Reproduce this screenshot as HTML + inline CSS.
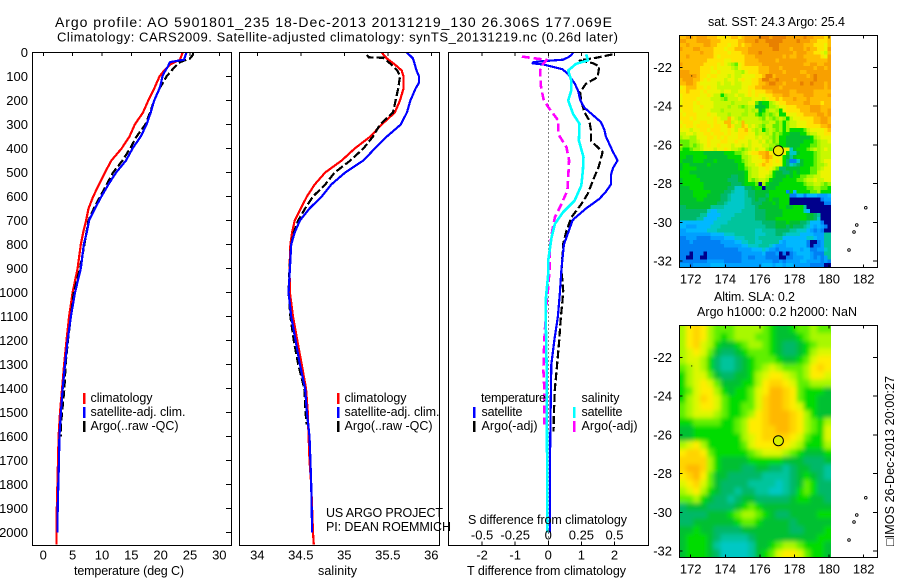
<!DOCTYPE html>
<html lang="en">
<head>
<meta charset="utf-8">
<title>Argo profile</title>
<style>
html,body{margin:0;padding:0;background:#fff;}
svg{display:block;}
text{font-family:"Liberation Sans",Arial,sans-serif;font-size:12.5px;fill:#000;dominant-baseline:central;}
text.t1{font-size:14px;}
text.t2{font-size:13px;}
text.tk{font-size:13px;}
</style>
</head>
<body>
<svg id="fig" xmlns="http://www.w3.org/2000/svg" width="900" height="580" viewBox="0 0 900 580">
  <defs>
    <clipPath id="clip-sst"><rect x="679.5" y="35.5" width="198" height="232"/></clipPath>
    <clipPath id="clip-sla"><rect x="679.5" y="325.5" width="198" height="232"/></clipPath>
    <filter id="smooth" filterUnits="userSpaceOnUse" x="650" y="300" width="250" height="280"><feGaussianBlur stdDeviation="2.2"/></filter>
  </defs>

  <text class="t1" x="55" y="22" textLength="557">Argo profile: AO 5901801_235 18-Dec-2013 20131219_130 26.306S 177.069E</text>
  <text class="t2" x="57" y="37" textLength="561">Climatology: CARS2009. Satellite-adjusted climatology: synTS_20131219.nc (0.26d later)</text>

  <g id="p1"></g>
  <g id="p2"></g>
  <g id="p3"></g>
  <g id="m1"></g>
  <g id="m2"></g>

  <text x="74" y="571" textLength="110">temperature (deg C)</text>
  <text x="318" y="571" textLength="39">salinity</text>
  <text x="467" y="571" textLength="159">T difference from climatology</text>
  <text x="468" y="520" textLength="159">S difference from climatology</text>

  <g>
    <rect x="83" y="393" width="2.5" height="11" fill="#ff0000"/>
    <rect x="83" y="407" width="2.5" height="11" fill="#0000ff"/>
    <rect x="83" y="421" width="2.5" height="11" fill="#000"/>
    <text x="90.5" y="398" textLength="62">climatology</text>
    <text x="90.5" y="412" textLength="95">satellite-adj. clim.</text>
    <text x="90.5" y="426" textLength="88">Argo(..raw -QC)</text>
  </g>
  <g>
    <rect x="337" y="393" width="2.5" height="11" fill="#ff0000"/>
    <rect x="337" y="407" width="2.5" height="11" fill="#0000ff"/>
    <rect x="337" y="421" width="2.5" height="11" fill="#000"/>
    <text x="344.5" y="398" textLength="62">climatology</text>
    <text x="344.5" y="412" textLength="95">satellite-adj. clim.</text>
    <text x="344.5" y="426" textLength="88">Argo(..raw -QC)</text>
  </g>
  <g>
    <text x="481" y="398" textLength="65">temperature</text>
    <text x="581.5" y="398" textLength="38">salinity</text>
    <rect x="473" y="407" width="2.5" height="11" fill="#0000ff"/>
    <rect x="473" y="421" width="2.5" height="11" fill="#000"/>
    <rect x="573" y="407" width="2.5" height="11" fill="#00ffff"/>
    <rect x="573" y="421" width="2.5" height="11" fill="#ff00ff"/>
    <text x="481.5" y="412" textLength="41">satellite</text>
    <text x="481.5" y="426" textLength="56">Argo(-adj)</text>
    <text x="581.5" y="412" textLength="41">satellite</text>
    <text x="581.5" y="426" textLength="56">Argo(-adj)</text>
  </g>
  <text x="326" y="513" textLength="117">US ARGO PROJECT</text>
  <text x="326" y="527" textLength="125">PI: DEAN ROEMMICH</text>

  <text x="708" y="22" textLength="137">sat. SST: 24.3 Argo: 25.4</text>
  <text x="714" y="297" textLength="81">Altim. SLA: 0.2</text>
  <text x="697" y="312" textLength="160">Argo h1000: 0.2 h2000: NaN</text>
  <text transform="translate(890 546) rotate(-90)" x="0" y="0" textLength="170">□IMOS 26-Dec-2013 20:00:27</text>
</svg>

<script>
// ---- shared depth axis ----
const depthTicks = [0,100,200,300,400,500,600,700,800,900,1000,1100,1200,1300,1400,1500,1600,1700,1800,1900,2000];

// ---- temperature panel ----
const tempTicks = [0,5,10,15,20,25,30];
const tempClimDepth = [0,30,50,75,100,150,200,250,300,350,400,450,500,550,600,650,700,750,800,900,1000,1100,1200,1300,1400,1500,1600,1700,1800,1900,2050];
const tempClim = [23.75,23.3,21.6,20.6,19.8,18.9,17.9,17.0,15.6,14.7,13.35,11.6,10.5,9.5,8.5,7.7,7.3,6.8,6.4,5.85,5.0,4.4,3.95,3.55,3.2,2.85,2.6,2.5,2.4,2.3,2.25];
const tempSatDepth = [0,30,40,60,80,100,130,150,200,250,300,350,400,450,500,550,600,650,700,750,800,900,1000,1100,1200,1300,1400,1500,1600,1700,1800,1900,2000];
const tempSat = [24.4,24,21.6,21.2,20.7,20.3,20.05,19.8,18.9,18.3,17.6,16.6,15.2,14.1,12.4,11.1,9.9,8.8,7.8,7.4,6.9,6.4,5.4,4.7,4.15,3.7,3.3,3.0,2.75,2.67,2.55,2.45,2.4];
const tempArgoDepth = [0,10,25,40,60,100,130,150,200,250,300,350,400,450,500,550,600,650,700,800,900,1000,1100,1200,1300,1400,1500,1550,1600];
const tempArgo = [25.5,25.5,25,23.3,22.4,21,20.3,19.8,18.9,18.2,17.4,15.9,14.8,13.5,11.9,10.8,9.7,8.6,7.7,7,6.25,5.2,4.7,4.2,3.8,3.6,3.2,3.0,3.0];

// ---- salinity panel ----
const salTicks = [34,34.5,35,35.5,36];
const salClimDepth = [0,25,50,75,100,150,200,250,300,350,400,450,500,550,600,650,700,750,800,900,1000,1100,1200,1300,1400,1500,1600,1700,1800,1900,2000,2050];
const salClim = [35.43,35.49,35.58,35.66,35.68,35.68,35.64,35.58,35.43,35.3,35.12,34.97,34.78,34.66,34.57,34.5,34.43,34.4,34.38,34.37,34.375,34.41,34.46,34.51,34.56,34.58,34.59,34.6,34.62,34.63,34.64,34.65];
const salSatDepth = [0,25,50,75,100,125,150,200,250,300,350,400,450,500,550,600,650,700,750,800,900,1000,1100,1200,1300,1400,1500,1600,1700,1800,1900,2000];
const salSat = [35.72,35.79,35.81,35.83,35.86,35.86,35.82,35.76,35.72,35.65,35.49,35.35,35.22,35.01,34.85,34.74,34.6,34.49,34.43,34.39,34.375,34.36,34.39,34.44,34.49,34.55,34.57,34.6,34.61,34.62,34.625,34.63];
const salArgoDepth = [10,20,22,50,75,100,150,200,250,300,350,400,450,500,550,600,650,700,750,800,900,1000,1100,1200,1300,1400,1500,1550];
const salArgo = [35.26,35.28,35.45,35.54,35.61,35.64,35.62,35.59,35.56,35.41,35.33,35.22,35.07,34.89,34.78,34.64,34.55,34.47,34.42,34.39,34.37,34.36,34.38,34.42,34.47,34.54,34.555,34.565];

// ---- difference panel ----
const dTTicks = [-2,-1,0,1,2];
const dSTicks = [-0.5,-0.25,0,0.25,0.5];
const dSTickLabels = ['-0.5','-0.25','0','0.25','0.5'];
const dTSatDepth = [0,10,20,30,35,40,45,50,60,70,90,100,130,160,200,230,260,290,320,350,380,410,450,480,510,550,580,610,650,690,700,750,800,900,1000,1100,1200,1300,1500,1700,2000];
const dTSat = [0.75,0.7,0.6,0.45,-0.05,-0.45,-0.48,-0.15,0.15,0.43,0.6,0.65,0.8,0.9,0.97,1.09,1.34,1.59,1.69,1.74,1.84,1.94,2.09,1.96,1.89,1.89,1.74,1.54,1.14,0.8,0.73,0.6,0.47,0.4,0.35,0.29,0.18,0.09,0.07,0.05,0.05];
const dTArgoDepth = [8,22,33,44,58,103,130,165,200,249,283,325,367,415,478,519,589,631,686,742,797,908,992,1033,1100,1200,1325,1400,1500,1580];
const dTArgo = [1.94,1.44,0.95,1.34,1.54,1.49,1.14,0.96,0.99,1.09,1.24,1.29,1.29,1.64,1.52,1.39,1.19,1.0,0.7,0.55,0.45,0.4,0.45,0.43,0.38,0.33,0.25,0.2,0.17,0.16];
const dSSatDepth = [8,33,47,75,117,158,200,256,297,367,436,492,554,617,665,714,769,864,919,1019,1100,1325,2000];
const dSSat = [0.286,0.3,0.21,0.15,0.174,0.174,0.15,0.187,0.236,0.231,0.266,0.261,0.249,0.199,0.112,0.05,0.025,0,0,-0.017,-0.02,-0.012,-0.007];
const dSArgoDepth = [17,31,54,75,137,193,228,283,339,394,450,519,575,631,686,742,811,881,978,1033,1100,1200,1325,1400,1550];
const dSArgo = [-0.2,-0.012,-0.05,-0.062,-0.057,-0.037,0,0.075,0.075,0.137,0.157,0.15,0.144,0.1,0.05,0.03,0.012,0.012,0,-0.012,-0.02,-0.03,-0.037,-0.03,-0.03];

// ---- maps ----
const lonTicks = [172,174,176,178,180,182];
const latTicks = [22,24,26,28,30,32];
const floatLon = 177.069;
const floatLat = 26.306;
const colorLevels = '0123456789ABCDEFG';
const sstColors = ['#00008c','#0080f4','#00a0ff','#00b8ff','#00c8c8','#00c49c','#00b868','#00c030','#00dc00','#60f000','#a0f800','#c8f800','#ecf400','#ffe400','#ffbc00','#f8a000','#e88000'];
const slaColors = ['#00008c','#0070f0','#0096ff','#00b4ff','#00c8c4','#00c49c','#00b868','#00c030','#00dc00','#60f000','#a8f800','#dcf800','#ffec00','#ffd400','#ffb800','#f09c00','#e07c00'];
const sstRows = [
"EEFFEFFFEEE DDDDEEDEFFF FGGGFGGGGFF FFFGFFEEEDE",
"FFEEEFFFFEE EDDDDDEEFFF GFFGGGGGFFF FGFFFEEDDDE",
"EEFEEEEFFEE DDDCDDEDEEF FFFFGGGFFFF FFFEEEDDDCE",
"FEEEFFEEEED DDCDDEEEEFF FFFFFGGFFFE FFFEFEEDDCF",
"EEEEEEFEEED DDDCDDDEEFF FGFFFFFFFFF EFFFEEDDCBE",
"EEFEEEEEEED CDDDDDDDEEE FFFFFFFFEFE EFFEEEEEDCF",
"EEEEEEEEDDD DDCCDDDDEEE EFFFFFEFFFF FFFFEEEEEEF",
"FEEEEEEDDDD CDCBA9CDEEE EEFFFFFFFFF FFFEEFFEEFF",
"EEEEEEDDDCD CCCCBACDDDD DEEEFFFEFFF FFFFFFEFFEF",
"FFFEEEDDDCC DCCCCBBACDD DEEEFFFFEFF FFEEFFFFFFF",
"FFFFFEDDCDD CCCBCBBCCCC DDEGGEFFFFF FFFFEFGFFFF",
"EFFFEEDCDCC CCBCCBCDCCD DEGGFFGFFFF EFFFFFGFFFF",
"EEFFEDCCCCC BCBBCBBCCCD DEEFGGFFEFF FFGFFGFFFEF",
"CDEEEDDCDCC BBBBBBBCCDD EEFFFFFEFFF FFFFFFFFFEF",
"DDEDDDCDCCC CBCCBBCCCDC DDDEEFFFFFE EFFFFFEEEEE",
"CDDDDDCCDCB B8ABBCBBCDC DCCDDEEEFFE EEEFFFEEEEF",
"CDDDDCCCCBB BA9BBBCBBBC CCBCDDEDEEE FEEEFEEEEEE",
"CDDDCDCCCCB BBBBABBBBCC 9788ABCDDEE EEEFFEEEDEE",
"DDDDCCDCCCB BBBABBA9ABB 7778AABCCDD DEEEEFFFEEE",
"CDDDCCCCCBB BABBBBBBABA B78ABBA8CDD DDEEEFFFEEF",
"DCDDDCCCDCC BBBABBBAABB 989A9AB88CC CDDEEEEFFEF",
"DDDCDCCCCCD CBBECBABBBB BA9BA9ABA8B CCDDDDEEFFE",
"CDDDCCDDCCD CCEEBCBEBBB BBAABB9A8AB BCCCDDEEFFE",
"DCDDCDDDDCD DCCEDBBEDBC BA9BB99A8AB BCCCDDDDEEF",
"CCCBCCDDCDD DCCDCBDDECB AB8ABA9A8A8 8889BCCCCDE",
"BBCCBCCDDCD DDCDCCDDDCC ABBAB9A9887 7788ABBCCDD",
"ABBAACCCDDC DCDCCCDDCCC BCBBA9A8877 777778ABCCC",
"999AABCCDCC CDDCCDCCCBC CBCAB9A8877 7778889ABBC",
"A99A9ABCDCC DCCCBCCBCBC CCBBAA98877 7788899ABBB",
"9889AABCCCB CCDCBBA9ABC BCCA9A88CC4 78889ABABCB",
"88888887777 7788899ABCD DEEFDCCCC84 4788889ABBB",
"88778888777 7778888AABC CDEFECCC875 7888889ABBB",
"87778887778 77777889ABC CCDEDCDC861 1478889ABCC",
"78877777877 77777788ABB CDEDDCCC864 5678889AABC",
"78888777777 777777889AB BCCDCB96677 7788899ABCC",
"88877777777 777777778AB BCCCB877667 8788899BCCC",
"88888777777 777766778AB BCCBA877787 8899AABBCCC",
"78888877777 777666778A9 ABBA8777888 899ABBCBBCC",
"78888887777 77776667888 90A87778888 8889AABBA9A",
"77788887777 77766444667 88077788888 888899AA998",
"77778888877 77665444566 77778888818 3888899A888",
"77778888777 76654444566 77768888881 13313332223",
"77777887777 76654444556 76678778880 00000000122",
"77777777777 66544444556 66777878880 00000000011",
"66777777755 55444444555 67777778877 88850000000",
"66666666433 44444445555 66677777888 88843000000",
"66666655333 34444555555 66677777888 88887765000",
"66666553333 44445555555 66677788888 88887764000",
"33333333334 44455555555 55666677787 77665333100",
"33222333344 45555555555 55566677767 66654323210",
"22333333444 55555555555 44555566665 54443212100",
"22222222233 33444555555 44455566544 44333322255",
"11222111122 22333444555 45555555333 33334432255",
"11121111111 12222334455 44555553233 33331001255",
"11111111111 11222223344 45554322233 33331011255",
"11111111111 11111122223 33432212222 33233112245",
"11101110111 11111112222 22311120101 23333211155",
"11001100111 11111112211 22211110011 22233212125",
"11111111222 22111112222 22222112122 22332222121",
"22212222233 33222222222 22333233233 22222111100"];
const slaRows = [
"ACDCA999AAAA9877899A99",
"ACDCA989AAA99877789AAA",
"ACDBA87789AA98766789AA",
"ABCB976678999876678ABB",
"ABBA865567899987789BCC",
"9ABA86556789ABA999ACDC",
"8ABB9766778ABCCBA9ACCB",
"8ABCB977788ACDDCB99AAA",
"89BCCA87889BCEEDC98887",
"8ABDCB98889BDEEDC98877",
"9ABCCB98899BDEEDCB8877",
"9ABBBA9889ACDEEEDCA877",
"889999889ACCDEEEDCA98A",
"778888889ACCDDEEDCA98B",
"778888888ABCDDDDCB988B",
"ABCA888889BCCCDCBA888A",
"CDDC9888889ABBBA987778",
"DDDDA87777888887776667",
"DEEDA87776677665677665",
"CDEC977666665555678765",
"BCDB976666555545679866",
"ABCA876656655445689866",
"99A8766567766666788776",
"6777666678987777777777",
"666677789AA98766777788",
"6677777789987777677777",
"7787766667777777667778",
"7888765555677777777788",
"788875444457789AA98887",
"78887644445789BCCB9887"];
const islandLon = [182.12,181.6,181.44,181.15];
const islandLat = [29.25,30.14,30.5,31.43];

const NS = 'http://www.w3.org/2000/svg';
function mk(tag, parent){ const el = document.createElementNS(NS, tag); parent.appendChild(el); return el; }
const depthY = d => 52.5 + d * 0.2400;

function drawFrame(g, x0, x1, y0, y1){
  const el = mk('rect', g);
  
  
  el.setAttribute('x', x0); el.setAttribute('y', y0);
  el.setAttribute('width', x1 - x0); el.setAttribute('height', y1 - y0);
  el.setAttribute('fill', 'none'); el.setAttribute('stroke', '#000');
  el.setAttribute('shape-rendering', 'crispEdges');
}
function tick(g, x1, y1, x2, y2){
  const el = mk('line', g);
  
  
  el.setAttribute('x1', x1); el.setAttribute('y1', y1);
  el.setAttribute('x2', x2); el.setAttribute('y2', y2);
  el.setAttribute('stroke', '#000');
  el.setAttribute('shape-rendering', 'crispEdges');
}
function label(g, x, y, s, anchor){
  const el = mk('text', g);
  
  
  el.setAttribute('class', 'tk');
  el.setAttribute('x', x); el.setAttribute('y', y);
  el.setAttribute('text-anchor', anchor);
  el.textContent = s;
}
function series(g, name, xs, ds, xf, color, width, dash){
  const el = mk('polyline', g);
  
  
  el.setAttribute('points', xs.map((v, i) => xf(v).toFixed(1) + ',' + depthY(ds[i]).toFixed(1)).join(' '));
  el.setAttribute('fill', 'none');
  el.setAttribute('stroke', color);
  el.setAttribute('stroke-width', width);
  el.setAttribute('stroke-linejoin', 'round');
  if (dash) el.setAttribute('stroke-dasharray', dash);
  el.setAttribute('shape-rendering', 'crispEdges');
}

// temperature panel
const p1 = document.getElementById('p1');
const tX = t => 43.3 + t * 5.867;
series(p1, 'climatology-temperature-line', tempClim, tempClimDepth, tX, '#ff0000', 2.2);
series(p1, 'argo-temperature-line', tempArgo, tempArgoDepth, tX, '#000', 2.2, '8 3');
series(p1, 'satellite-temperature-line', tempSat, tempSatDepth, tX, '#0000ff', 2.2);
drawFrame(p1, 32.5, 231.5, 52.5, 545.5);
tempTicks.forEach(t => {
  tick(p1, tX(t), 52.5, tX(t), 56);
  label(p1, tX(t), 555, String(t), 'middle');
});
depthTicks.forEach(d => {
  tick(p1, 226, depthY(d), 231.5, depthY(d));
  label(p1, 28, depthY(d), String(d), 'end');
});

// salinity panel
const p2 = document.getElementById('p2');
const sX = s => 257.3 + (s - 34) * 87;
series(p2, 'climatology-salinity-line', salClim, salClimDepth, sX, '#ff0000', 2.2);
series(p2, 'argo-salinity-line', salArgo, salArgoDepth, sX, '#000', 2.2, '8 3');
series(p2, 'satellite-salinity-line', salSat, salSatDepth, sX, '#0000ff', 2.2);
drawFrame(p2, 239.5, 439.5, 52.5, 545.5);
salTicks.forEach(s => {
  tick(p2, sX(s), 52.5, sX(s), 56);
  label(p2, sX(s), 555, String(s), 'middle');
});

// difference panel
const p3 = document.getElementById('p3');
const dtX = t => 548.3 + t * 33.1;
const dsX = s => 548.3 + s * 132.4;
const zero = mk('line', p3);


zero.setAttribute('x1', dtX(0)); zero.setAttribute('x2', dtX(0));
zero.setAttribute('y1', 52.5); zero.setAttribute('y2', 545.5);
zero.setAttribute('stroke', '#000'); zero.setAttribute('stroke-dasharray', '1 3');
zero.setAttribute('shape-rendering', 'crispEdges');
series(p3, 'argo-temperature-difference-line', dTArgo, dTArgoDepth, dtX, '#000', 2.2, '8 3');
series(p3, 'satellite-temperature-difference-line', dTSat, dTSatDepth, dtX, '#0000ff', 2.2);
series(p3, 'argo-salinity-difference-line', dSArgo, dSArgoDepth, dsX, '#ff00ff', 2.6, '8 4');
series(p3, 'satellite-salinity-difference-line', dSSat, dSSatDepth, dsX, '#00ffff', 2.6);
drawFrame(p3, 448.5, 648.5, 52.5, 545.5);
dTTicks.forEach(t => {
  tick(p3, dtX(t), 52.5, dtX(t), 56);
  tick(p3, dtX(t), 541.5, dtX(t), 545.5);
  label(p3, dtX(t), 555, String(t), 'middle');
});
dSTicks.forEach((s, i) => {
  label(p3, dsX(s), 535, dSTickLabels[i], 'middle');
});

// maps
const lonX = lon => 690.7 + (lon - 172) * 17.3;
const lon0 = 171.34, lonSpan = 8.76, lat0 = 20.35, latSpan = 11.96;
function drawMap(gid, rawRows, palette, yOff, clipId, filterId, circleFill){
  const g = document.getElementById(gid);
  const rows = rawRows.map(r => r.replace(/ /g, ''));
  const nCols = rows[0].length;
  const dLon = lonSpan / nCols;
  const dLat = latSpan / rows.length;
  const latY = lat => 67.3 + yOff + (lat - 22) * 19.37;
  const clipG = mk('g', g);
  
  
  clipG.setAttribute('clip-path', 'url(#' + clipId + ')');
  const cells = mk('g', clipG);
  
  
  if (filterId) cells.setAttribute('filter', 'url(#' + filterId + ')');
  rows.forEach((row, r) => {
    for (let c = 0; c < nCols; c++) {
      const ch = row[c] || row[row.length - 1];
      const x0 = lonX(lon0 + c * dLon), x1 = lonX(lon0 + (c + 1) * dLon);
      const y0 = latY(lat0 + r * dLat), y1 = latY(lat0 + (r + 1) * dLat);
      const pad = filterId ? 10 : 0;
      const el = mk('rect', cells);
      
      
      el.setAttribute('x', c === 0 ? x0 - pad : x0);
      el.setAttribute('y', r === 0 ? y0 - pad : y0);
      el.setAttribute('width', x1 - x0 + 0.4 + (c === 0 ? pad : 0) + (c === nCols - 1 ? pad : 0));
      el.setAttribute('height', y1 - y0 + 0.4 + (r === 0 ? pad : 0) + (r === rows.length - 1 ? pad : 0));
      el.setAttribute('fill', palette[colorLevels.indexOf(ch)]);
      el.setAttribute('shape-rendering', 'crispEdges');
    }
  });
  const mask = mk('rect', clipG);
  
  
  mask.setAttribute('x', lonX(lon0 + lonSpan)); mask.setAttribute('y', 30 + yOff);
  mask.setAttribute('width', 60); mask.setAttribute('height', 245);
  mask.setAttribute('fill', '#fff');
  mask.setAttribute('shape-rendering', 'crispEdges');
  islandLon.forEach((lon, i) => {
    const isl = mk('circle', g);
    
    
    isl.setAttribute('cx', lonX(lon)); isl.setAttribute('cy', latY(islandLat[i]));
    isl.setAttribute('r', 1.3);
    isl.setAttribute('fill', 'none'); isl.setAttribute('stroke', '#000'); isl.setAttribute('stroke-width', 0.9);
  });
  const spec = mk('rect', g);
  
  
  spec.setAttribute('x', lonX(172.03)); spec.setAttribute('y', latY(22.42));
  spec.setAttribute('width', 1); spec.setAttribute('height', 1);
  spec.setAttribute('fill', '#000');
  const dot = mk('circle', g);
  
  
  dot.setAttribute('cx', lonX(floatLon)); dot.setAttribute('cy', latY(floatLat));
  dot.setAttribute('r', 5);
  dot.setAttribute('fill', circleFill);
  dot.setAttribute('stroke', '#000');
  dot.setAttribute('stroke-width', 1);
  const top = 35.5 + yOff, bot = 267.5 + yOff;
  drawFrame(g, 679.5, 877.5, top, bot);
  lonTicks.forEach(lon => {
    tick(g, lonX(lon), top, lonX(lon), top + 3);
    tick(g, lonX(lon), bot - 3, lonX(lon), bot);
    label(g, lonX(lon), bot + 11.5, String(lon), 'middle');
  });
  latTicks.forEach(lat => {
    tick(g, 679.5, latY(lat), 682.5, latY(lat));
    tick(g, 873, latY(lat), 877.5, latY(lat));
    label(g, 672, latY(lat), '-' + lat, 'end');
  });
}
drawMap('m1', sstRows, sstColors, 0, 'clip-sst', null, '#f0e800');
drawMap('m2', slaRows, slaColors, 290, 'clip-sla', 'smooth', '#d8f000');
</script>
</body>
</html>
